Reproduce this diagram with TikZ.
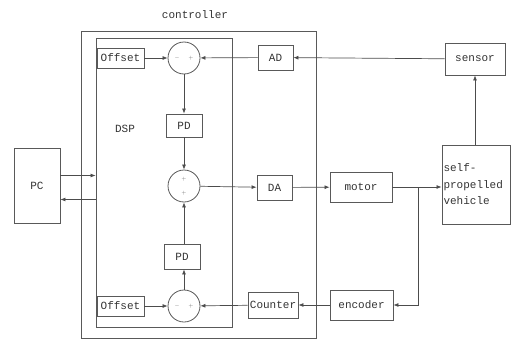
\documentclass[tikz,border=0pt]{standalone}
\usepackage{fontspec}
\setmonofont{Liberation Mono}
\usetikzlibrary{arrows.meta}
\tikzset{
  blk/.style={draw=black!65,line width=0.9pt,inner sep=0pt,text=black!80,font=\ttfamily\fontsize{11}{13}\selectfont},
  sum/.style={circle,draw=black!65,line width=0.8pt,minimum size=32pt,inner sep=0pt},
  sgn/.style={inner sep=0pt,font=\fontsize{5}{5}\selectfont,text=black!60},
  arr/.style={draw=black!70,line width=0.7pt,-{Latex[length=5pt,width=4pt]}},
  ln/.style={draw=black!70,line width=0.7pt}
}
\begin{document}
\begin{tikzpicture}[x=1pt,y=-1pt]
\useasboundingbox (0,0) rectangle (511,340);
\node[text=black!80,font=\ttfamily\fontsize{11}{13}\selectfont] (ctl) at (195,15) {controller};
\node[blk,minimum width=235pt,minimum height=307pt] (ctlbox) at (198.5,184.5) {};
\node[blk,minimum width=136pt,minimum height=289pt] (dsp) at (164,182.5) {};
\node[text=black!80,font=\ttfamily\fontsize{11}{13}\selectfont] (dsplab) at (125,129) {DSP};
% top loop
\node[blk,minimum width=47pt,minimum height=20pt] (offa) at (120.5,58) {Offset};
\node[sum] (suma) at (184,58) {};
\node[sgn] at (177,58) {$-$};
\node[sgn] at (191,58) {$+$};
\node[blk,minimum width=35pt,minimum height=25pt] (ad) at (275.5,57.5) {AD};
\node[blk,minimum width=60pt,minimum height=32pt] (sensor) at (475,59) {sensor};
\node[blk,minimum width=36pt,minimum height=23pt] (pda) at (184,125.5) {PD};
% middle
\node[sum] (sumb) at (184,186) {};
\node[sgn] at (184,179) {$+$};
\node[sgn] at (184,193) {$+$};
\node[blk,minimum width=35pt,minimum height=25pt] (da) at (274.5,187.5) {DA};
\node[blk,minimum width=62pt,minimum height=30pt] (motor) at (361,187) {motor};
\node[blk,minimum height=79pt,inner xsep=1.5pt,text width=65pt,align=left,font=\ttfamily\fontsize{11}{16.5}\selectfont] (veh) at (476,184.5) {self-\\propelled\\vehicle};
\node[blk,minimum width=46pt,minimum height=75pt] (pc) at (37,185.5) {PC};
% bottom loop
\node[blk,minimum width=36pt,minimum height=25pt] (pdb) at (182,256.5) {PD};
\node[sum] (sumc) at (184,306) {};
\node[sgn] at (177,306) {$-$};
\node[sgn] at (191,306) {$+$};
\node[blk,minimum width=47pt,minimum height=20pt] (offb) at (120.5,306) {Offset};
\node[blk,minimum width=50pt,minimum height=26pt] (cnt) at (273,305) {Counter};
\node[blk,minimum width=63pt,minimum height=30pt] (enc) at (361.5,305) {encoder};
\coordinate (br) at (418,187);
% connectors
\draw[arr] (offa) -- (suma);
\draw[arr] (ad) -- (suma);
\draw[arr] (sensor) -- (ad);
\draw[arr] (suma) -- (pda);
\draw[arr] (pda) -- (sumb);
\draw[arr] (sumb) -- (da);
\draw[arr] (da) -- (motor);
\draw[arr] (motor) -- (veh.west |- motor);
\draw[arr] (veh.north -| sensor) -- (sensor);
\draw[arr] (br) |- (enc.east);
\draw[arr] (enc) -- (cnt);
\draw[arr] (cnt) -- (sumc);
\draw[arr] (offb) -- (sumc);
\draw[arr] (sumc) -- (sumc |- pdb.south);
\draw[arr] (sumb |- pdb.north) -- (sumb);
\draw[arr] ([yshift=10pt]pc.east) -- ([yshift=10pt]pc.east -| dsp.west);
\draw[arr] ([yshift=-14pt]pc.east -| dsp.west) -- ([yshift=-14pt]pc.east);
\end{tikzpicture}
\end{document}
